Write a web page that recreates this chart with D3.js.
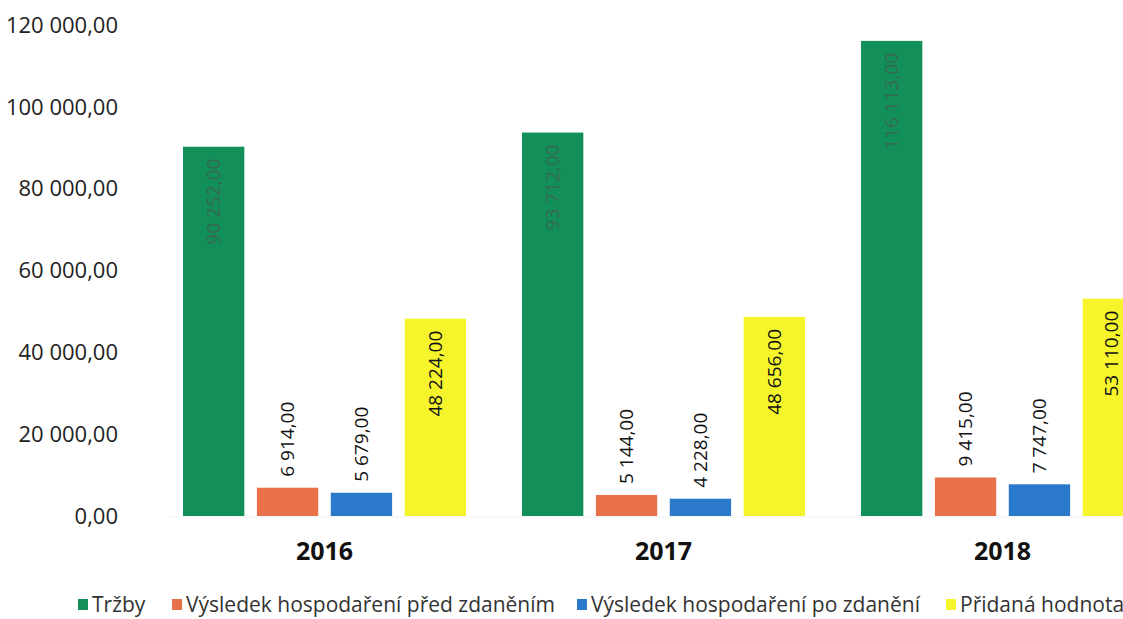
<!DOCTYPE html>
<html>
<head>
<meta charset="utf-8">
<script src="https://cdn.jsdelivr.net/npm/d3@7"></script>
<style>
  body { margin: 0; background: #fff; }
  text { font-family: "Open Sans", sans-serif; }
</style>
</head>
<body>
<svg width="1123" height="619"></svg>
<script>
const years = ["2016", "2017", "2018"];
const seriesNames = ["Tržby", "Výsledek hospodaření před zdaněním", "Výsledek hospodaření po zdanění", "Přidaná hodnota"];
const trzby = [90252, 93712, 116113];
const vhPred = [6914, 5144, 9415];
const vhPo = [5679, 4228, 7747];
const pridana = [48224, 48656, 53110];
const yTicks = [0, 20000, 40000, 60000, 80000, 100000, 120000];
const colors = ["#13905a", "#e8714a", "#2a79cb", "#f6f52c"];

const svg = d3.select("svg");
const width = 1123;
const height = 619;

const allValues = [trzby, vhPred, vhPo, pridana];

// number format like "90 252,00"
const fmt = v => d3.format(",.2f")(v).replace(/,/g, " ").replace(".", ",");

const y = d3.scaleLinear().domain([0, 120000]).range([516, 25]);

const x0 = d3.scaleBand().domain(years).range([155, 1172]).padding(0);
const x1 = d3.scaleBand().domain(seriesNames).range([28, 311]).paddingInner(0.17).paddingOuter(0);

// y axis labels (no line, no gridlines)
svg.append("g")
  .selectAll("text")
  .data(yTicks)
  .enter().append("text")
  .attr("x", 118)
  .attr("y", d => y(d))
  .attr("dy", "0.35em")
  .attr("text-anchor", "end")
  .attr("font-size", 22)
  .attr("fill", "#222")
  .text(d => fmt(d));

// faint baseline
svg.append("line")
  .attr("x1", 170).attr("x2", 1123)
  .attr("y1", y(0) + 1).attr("y2", y(0) + 1)
  .style("stroke", "#f2f2f2");

const groups = svg.append("g")
  .selectAll("g")
  .data(years)
  .enter().append("g")
  .attr("transform", d => `translate(${x0(d)},0)`);

const barData = (yr, i) => seriesNames.map((s, k) => ({ year: yr, series: s, k: k, value: allValues[k][i] }));

const bars = groups.selectAll("g.bar")
  .data((d, i) => barData(d, i))
  .enter().append("g")
  .attr("class", "bar");

bars.append("rect")
  .attr("x", d => x1(d.series))
  .attr("y", d => y(d.value))
  .attr("width", x1.bandwidth())
  .attr("height", d => y(0) - y(d.value))
  .style("fill", d => colors[d.k]);

// value labels, rotated
bars.append("text")
  .attr("transform", d => {
    let cx = x1(d.series) + x1.bandwidth() / 2;
    // keep label inside the picture when the bar runs off the right edge
    cx = Math.min(cx, width - 12 - x0(d.year));
    const inside = d.k === 0 || d.k === 3;
    const yy = inside ? y(d.value) + 12 : y(d.value) - 11;
    return `translate(${cx},${yy}) rotate(-90)`;
  })
  .attr("dy", "0.35em")
  .attr("text-anchor", d => (d.k === 0 || d.k === 3) ? "end" : "start")
  .attr("font-size", 19)
  .attr("fill", d => d.k === 0 ? "#356a4f" : "#111")
  .text(d => fmt(d.value));

// year labels
svg.append("g")
  .selectAll("text")
  .data(years)
  .enter().append("text")
  .attr("x", d => x0(d) + x0.bandwidth() / 2)
  .attr("y", 560)
  .attr("text-anchor", "middle")
  .attr("font-size", 25)
  .attr("font-weight", "bold")
  .attr("fill", "#111")
  .text(d => d);

// legend
const legendX = [78, 172, 577, 946];
const legend = svg.append("g")
  .selectAll("g")
  .data(seriesNames)
  .enter().append("g")
  .attr("transform", (d, i) => `translate(${legendX[i]},605)`);

legend.append("rect")
  .attr("x", 0).attr("y", -6)
  .attr("width", 10).attr("height", 11)
  .style("fill", (d, i) => colors[i]);

legend.append("text")
  .attr("x", 14)
  .attr("dy", "0.35em")
  .attr("font-size", 21)
  .attr("fill", "#333")
  .text(d => d);
</script>
</body>
</html>
